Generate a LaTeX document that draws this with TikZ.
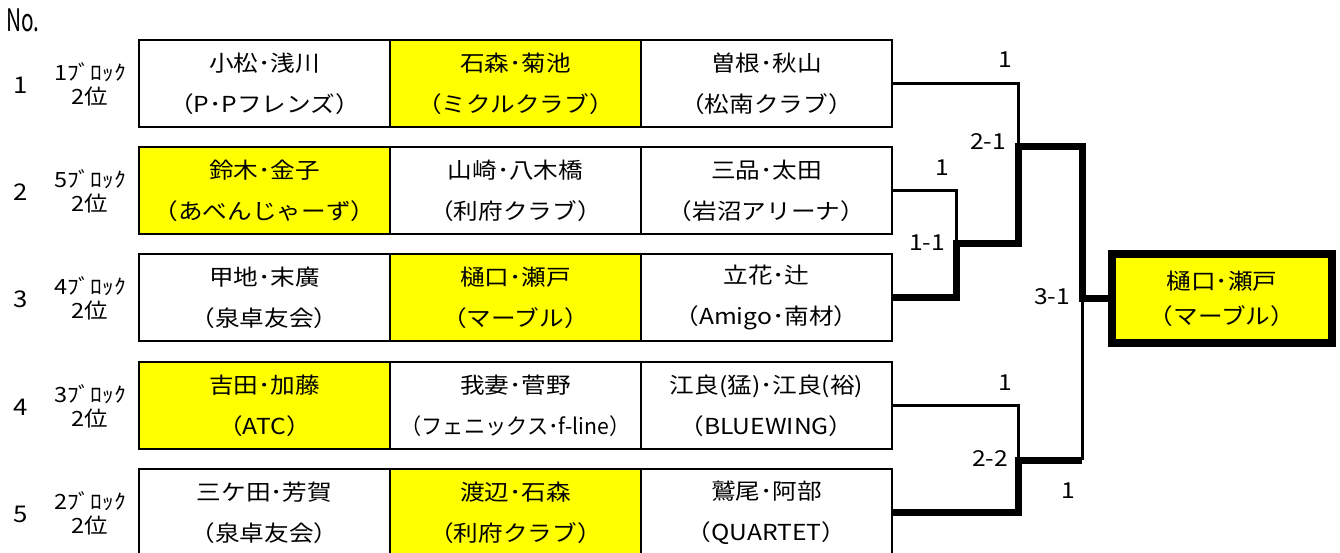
\documentclass[tikz,border=0pt]{standalone}
\usepackage{fontspec}
\setmainfont{Noto Sans CJK JP}[FakeStretch=1.12]
\definecolor{hl}{RGB}{255,255,0}
\begin{document}
\begin{tikzpicture}[x=1pt,y=-1pt,
  cell/.style={draw, line width=2.8pt, minimum width=251pt, minimum height=87pt, inner sep=0pt, align=center, font=\fontsize{22}{41}\selectfont},
  win/.style={cell, fill=hl},
  thinln/.style={line width=3pt, line join=miter},
  thickln/.style={line width=7pt, line join=miter},
  score/.style={font=\fontsize{22}{25}\selectfont, inner sep=0pt},
  num/.style={font=\fontsize{23}{25}\selectfont, inner sep=0pt},
  blk/.style={font=\fontsize{21}{25}\selectfont, inner sep=0pt},
  finalbox/.style={draw, line width=8pt, fill=hl, minimum width=220pt, minimum height=89pt, inner sep=0pt, align=center, font=\fontsize{22}{35}\selectfont}
]
\useasboundingbox (0,0) rectangle (1340,553);

\node[font=\fontsize{31}{33}\selectfont, inner sep=0pt, anchor=west] (no) at (6,20) {\scalebox{0.6}[1]{No.}};

% group 1
\node[num] (n1) at (21,85) {1};
\node[blk] (b1a) at (90,72) {1ﾌﾞﾛｯｸ};
\node[blk] (b1b) at (90,97) {2位};
\node[cell] (g1c1) at (264.5,83.5) {小松･浅川\\（P･Pフレンズ）};
\node[win]  (g1c2) at (515.5,83.5) {石森･菊池\\（ミクルクラブ）};
\node[cell] (g1c3) at (766.5,83.5) {曽根･秋山\\（松南クラブ）};

% group 2
\node[num] (n2) at (21,192) {2};
\node[blk] (b2a) at (90,179) {5ﾌﾞﾛｯｸ};
\node[blk] (b2b) at (90,204) {2位};
\node[win]  (g2c1) at (264.5,190.5) {鈴木･金子\\（あべんじゃーず）};
\node[cell] (g2c2) at (515.5,190.5) {山崎･八木橋\\（利府クラブ）};
\node[cell] (g2c3) at (766.5,190.5) {三品･太田\\（岩沼アリーナ）};

% group 3
\node[num] (n3) at (21,299) {3};
\node[blk] (b3a) at (90,286) {4ﾌﾞﾛｯｸ};
\node[blk] (b3b) at (90,311) {2位};
\node[cell] (g3c1) at (264.5,297.5) {甲地･末廣\\（泉卓友会）};
\node[win]  (g3c2) at (515.5,297.5) {樋口･瀬戸\\（マーブル）};
\node[cell] (g3c3) at (766.5,297.5) {立花･辻\\（Amigo･南材）};

% group 4
\node[num] (n4) at (21,407) {4};
\node[blk] (b4a) at (90,394) {3ﾌﾞﾛｯｸ};
\node[blk] (b4b) at (90,419) {2位};
\node[win]  (g4c1) at (264.5,405.5) {吉田･加藤\\（ATC）};
\node[cell] (g4c2) at (515.5,405.5) {我妻･菅野\\\scalebox{0.86}[1]{（フェニックス･f-line）}};
\node[cell] (g4c3) at (766.5,405.5) {江良(猛)･江良(裕)\\（BLUEWING）};

% group 5
\node[num] (n5) at (21,514) {5};
\node[blk] (b5a) at (90,501) {2ﾌﾞﾛｯｸ};
\node[blk] (b5b) at (90,526) {2位};
\node[cell] (g5c1) at (264.5,512.5) {三ケ田･芳賀\\（泉卓友会）};
\node[win]  (g5c2) at (515.5,512.5) {渡辺･石森\\（利府クラブ）};
\node[cell] (g5c3) at (766.5,512.5) {鷲尾･阿部\\（QUARTET）};

% final
\node[finalbox] (final) at (1222,298.5) {樋口･瀬戸\\（マーブル）};

% junctions
\coordinate (j1) at (1018,147);
\coordinate (j23) at (956,244);
\coordinate (j45) at (1018,460);
\coordinate (jt) at (1082,147);
\coordinate (jf) at (1082,298.5);
\coordinate (jb) at (1082,460);

% thin lines (losers)
\draw[thinln] (g1c3.east) -| (j1);
\draw[thinln] (g2c3.east) -| (j23);
\draw[thinln] (g4c3.east) -| (j45);
\draw[thinln] (jb) -- (jf);

% thick lines (winners)
\draw[thickln] (g3c3.east) -| (j23) -| (j1) -- (jt) -- (jf) -- (final.west);
\draw[thickln] (g5c3.east) -| (j45) -- (jb);

% scores
\node[score] (s1) at (1005,60) {1};
\node[score] (s21) at (988,142) {2-1};
\node[score] (s2) at (942,168) {1};
\node[score] (s11) at (927,243) {1-1};
\node[score] (s31) at (1052,297) {3-1};
\node[score] (s4) at (1005,383) {1};
\node[score] (s22) at (990,459) {2-2};
\node[score] (s5) at (1068,491) {1};
\end{tikzpicture}
\end{document}
